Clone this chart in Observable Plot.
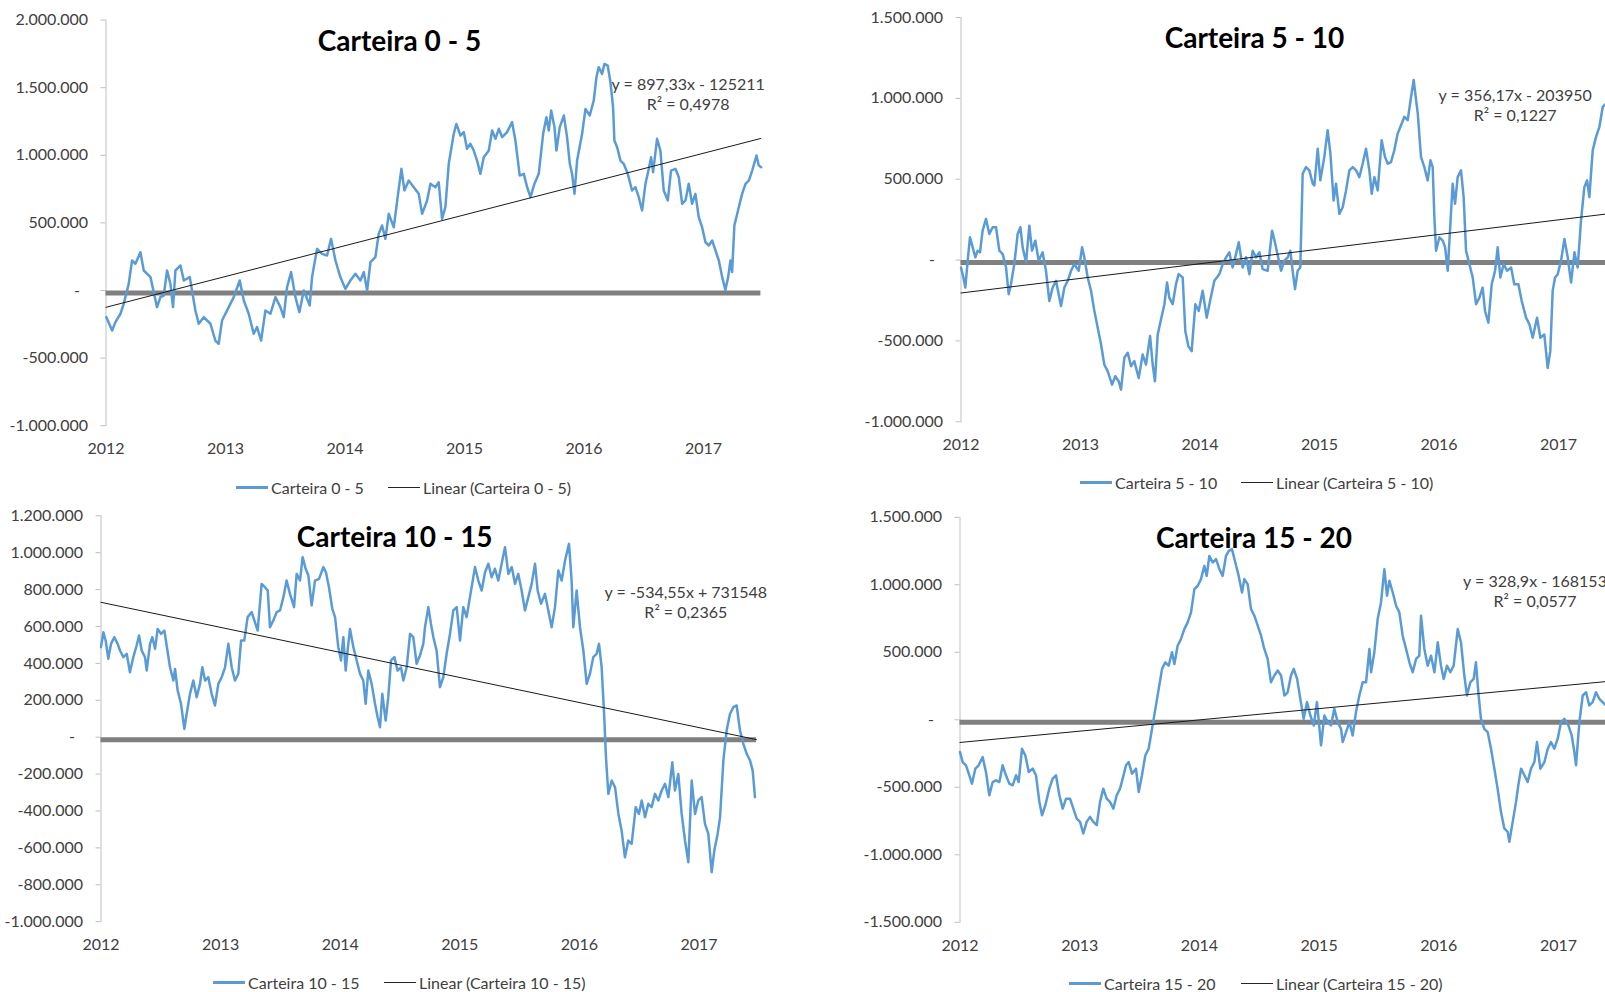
<!DOCTYPE html>
<html>
<head>
<meta charset="utf-8">
<script src="https://cdn.jsdelivr.net/npm/d3@7"></script>
<script src="https://cdn.jsdelivr.net/npm/@observablehq/plot@0.6"></script>
<style>
  html, body { margin: 0; padding: 0; background: #fff; }
  body { width: 1605px; height: 992px; overflow: hidden; position: relative; font-family: Lato, "Open Sans", sans-serif; }
  .panel { position: absolute; }
  .legend-item { position: absolute; display: flex; align-items: center; height: 20px; font-size: 16px; color: #404040; white-space: nowrap; }
  .swatch { display: inline-block; width: 32px; margin-right: 3px; }
</style>
</head>
<body>
<script>
// Daily P&L paths of four maturity buckets, [decimal year, value in thousands]
const carteira05 = [[2012.003,-197],[2012.051,-296],[2012.079,-234],[2012.121,-172],[2012.148,-99],[2012.190,49],[2012.218,222],[2012.246,197],[2012.288,283],[2012.316,148],[2012.372,99],[2012.427,-123],[2012.455,-49],[2012.483,-37],[2012.511,148],[2012.539,49],[2012.561,-123],[2012.581,148],[2012.623,185],[2012.651,74],[2012.701,99],[2012.748,-148],[2012.776,-246],[2012.818,-197],[2012.874,-246],[2012.915,-370],[2012.943,-394],[2012.971,-222],[2013.027,-123],[2013.069,-49],[2013.119,74],[2013.153,-74],[2013.194,-172],[2013.236,-320],[2013.264,-271],[2013.298,-370],[2013.334,-148],[2013.376,-172],[2013.418,-49],[2013.459,-123],[2013.487,-197],[2013.515,25],[2013.549,136],[2013.585,-49],[2013.618,-160],[2013.655,0],[2013.705,-111],[2013.724,99],[2013.766,308],[2013.808,271],[2013.850,259],[2013.883,382],[2013.920,222],[2013.961,99],[2014.003,12],[2014.045,74],[2014.087,123],[2014.129,74],[2014.157,136],[2014.185,0],[2014.213,210],[2014.254,247],[2014.282,419],[2014.310,481],[2014.338,382],[2014.366,567],[2014.408,468],[2014.444,715],[2014.472,900],[2014.497,740],[2014.533,813],[2014.575,764],[2014.617,715],[2014.645,567],[2014.687,666],[2014.715,789],[2014.756,764],[2014.784,801],[2014.812,530],[2014.840,616],[2014.868,937],[2014.910,1159],[2014.932,1232],[2014.966,1146],[2014.994,1171],[2015.021,1048],[2015.049,1085],[2015.077,1035],[2015.105,961],[2015.133,863],[2015.161,986],[2015.203,1035],[2015.231,1183],[2015.259,1122],[2015.287,1196],[2015.315,1134],[2015.356,1171],[2015.398,1245],[2015.426,1109],[2015.462,850],[2015.496,863],[2015.524,764],[2015.552,690],[2015.585,789],[2015.621,863],[2015.658,1159],[2015.685,1282],[2015.705,1183],[2015.725,1331],[2015.753,1208],[2015.769,1035],[2015.797,1208],[2015.831,1294],[2015.858,1134],[2015.881,937],[2015.900,863],[2015.920,715],[2015.942,961],[2015.984,1159],[2016.012,1343],[2016.048,1294],[2016.081,1405],[2016.104,1578],[2016.123,1652],[2016.151,1602],[2016.171,1676],[2016.198,1664],[2016.221,1541],[2016.243,1356],[2016.254,1109],[2016.277,1060],[2016.305,961],[2016.332,937],[2016.366,863],[2016.402,740],[2016.430,764],[2016.458,690],[2016.486,592],[2016.514,789],[2016.542,900],[2016.561,986],[2016.578,875],[2016.611,1122],[2016.639,1035],[2016.667,740],[2016.701,666],[2016.728,887],[2016.765,900],[2016.793,838],[2016.821,641],[2016.849,666],[2016.876,789],[2016.904,641],[2016.932,715],[2016.960,542],[2016.988,468],[2017.016,357],[2017.044,333],[2017.072,370],[2017.100,296],[2017.128,222],[2017.156,99],[2017.183,5],[2017.206,99],[2017.225,222],[2017.239,136],[2017.258,481],[2017.295,616],[2017.323,715],[2017.351,789],[2017.379,813],[2017.407,887],[2017.443,998],[2017.462,924],[2017.482,912]];

const carteira510 = [[2012.000,-46],[2012.020,-108],[2012.036,-170],[2012.056,-4],[2012.075,141],[2012.098,79],[2012.120,17],[2012.139,58],[2012.159,48],[2012.181,182],[2012.209,255],[2012.237,161],[2012.265,203],[2012.293,203],[2012.321,58],[2012.349,37],[2012.377,-46],[2012.399,-211],[2012.418,-149],[2012.446,-25],[2012.474,161],[2012.497,203],[2012.516,79],[2012.544,-14],[2012.572,213],[2012.594,58],[2012.622,120],[2012.650,-4],[2012.683,48],[2012.711,-66],[2012.739,-253],[2012.767,-170],[2012.795,-128],[2012.837,-284],[2012.865,-170],[2012.893,-128],[2012.921,-66],[2012.948,-25],[2012.985,-66],[2013.013,79],[2013.032,17],[2013.060,-108],[2013.088,-190],[2013.116,-315],[2013.144,-418],[2013.172,-522],[2013.199,-646],[2013.227,-687],[2013.264,-770],[2013.291,-718],[2013.319,-749],[2013.339,-801],[2013.367,-604],[2013.395,-573],[2013.423,-656],[2013.450,-625],[2013.487,-729],[2013.520,-584],[2013.548,-646],[2013.582,-470],[2013.604,-646],[2013.623,-749],[2013.646,-460],[2013.674,-366],[2013.702,-273],[2013.724,-139],[2013.743,-232],[2013.771,-273],[2013.799,-149],[2013.821,-87],[2013.855,-108],[2013.877,-439],[2013.902,-532],[2013.930,-563],[2013.961,-273],[2013.989,-315],[2014.022,-190],[2014.056,-356],[2014.084,-253],[2014.120,-128],[2014.162,-87],[2014.190,-25],[2014.218,17],[2014.245,48],[2014.273,-46],[2014.301,37],[2014.324,110],[2014.357,-46],[2014.385,17],[2014.413,-87],[2014.441,58],[2014.469,17],[2014.497,48],[2014.524,-56],[2014.566,-66],[2014.603,182],[2014.630,99],[2014.678,-66],[2014.706,-4],[2014.734,17],[2014.756,58],[2014.775,-66],[2014.795,-180],[2014.817,-66],[2014.839,-46],[2014.859,534],[2014.887,575],[2014.915,555],[2014.943,472],[2014.957,462],[2014.985,689],[2015.007,493],[2015.040,638],[2015.068,803],[2015.091,658],[2015.118,368],[2015.138,472],[2015.166,286],[2015.194,327],[2015.222,431],[2015.250,555],[2015.278,575],[2015.306,555],[2015.333,513],[2015.361,596],[2015.389,689],[2015.417,555],[2015.437,410],[2015.459,513],[2015.487,431],[2015.520,741],[2015.548,638],[2015.571,596],[2015.598,606],[2015.626,679],[2015.654,782],[2015.682,834],[2015.710,886],[2015.738,865],[2015.766,1010],[2015.788,1114],[2015.808,989],[2015.822,907],[2015.849,638],[2015.877,575],[2015.905,493],[2015.928,617],[2015.947,575],[2015.961,265],[2015.975,58],[2016.003,141],[2016.031,120],[2016.051,79],[2016.073,-66],[2016.095,224],[2016.114,472],[2016.134,348],[2016.156,513],[2016.184,555],[2016.206,389],[2016.226,58],[2016.254,-25],[2016.282,-108],[2016.310,-273],[2016.338,-232],[2016.365,-170],[2016.385,-315],[2016.413,-387],[2016.441,-149],[2016.469,-66],[2016.491,79],[2016.513,-108],[2016.541,-25],[2016.569,-66],[2016.603,-46],[2016.630,-149],[2016.664,-149],[2016.692,-253],[2016.728,-356],[2016.756,-397],[2016.784,-480],[2016.820,-356],[2016.848,-480],[2016.881,-460],[2016.909,-667],[2016.931,-563],[2016.951,-190],[2016.971,-108],[2016.993,-87],[2017.021,-4],[2017.049,130],[2017.077,17],[2017.105,-139],[2017.133,48],[2017.160,-46],[2017.188,244],[2017.216,451],[2017.239,493],[2017.258,389],[2017.286,679],[2017.314,762],[2017.342,824],[2017.370,948],[2017.398,969]];

const carteira1015 = [[2012.000,488],[2012.020,569],[2012.039,524],[2012.061,425],[2012.084,506],[2012.111,542],[2012.139,506],[2012.159,470],[2012.187,434],[2012.215,452],[2012.242,352],[2012.270,434],[2012.298,497],[2012.318,551],[2012.340,470],[2012.368,434],[2012.382,361],[2012.410,506],[2012.429,542],[2012.452,479],[2012.474,587],[2012.502,560],[2012.530,578],[2012.549,497],[2012.577,379],[2012.605,307],[2012.619,370],[2012.641,253],[2012.669,181],[2012.697,45],[2012.716,126],[2012.744,235],[2012.772,307],[2012.800,217],[2012.828,289],[2012.847,379],[2012.870,307],[2012.897,325],[2012.925,235],[2012.953,172],[2012.981,289],[2013.009,325],[2013.037,379],[2013.065,506],[2013.093,379],[2013.120,307],[2013.148,343],[2013.171,524],[2013.198,524],[2013.226,651],[2013.260,678],[2013.282,633],[2013.310,578],[2013.343,831],[2013.371,813],[2013.394,795],[2013.413,596],[2013.441,633],[2013.469,678],[2013.497,687],[2013.525,759],[2013.552,849],[2013.580,777],[2013.614,705],[2013.636,885],[2013.664,849],[2013.686,976],[2013.711,913],[2013.734,876],[2013.761,714],[2013.789,849],[2013.823,858],[2013.859,922],[2013.881,894],[2013.906,813],[2013.934,696],[2013.957,651],[2013.984,488],[2014.007,416],[2014.026,542],[2014.046,361],[2014.062,470],[2014.082,587],[2014.110,488],[2014.138,416],[2014.166,343],[2014.193,307],[2014.213,181],[2014.235,361],[2014.263,289],[2014.291,181],[2014.313,108],[2014.333,54],[2014.352,235],[2014.380,90],[2014.402,217],[2014.425,416],[2014.453,434],[2014.480,361],[2014.508,379],[2014.528,307],[2014.556,379],[2014.584,560],[2014.611,542],[2014.639,398],[2014.667,443],[2014.695,506],[2014.709,596],[2014.737,705],[2014.759,614],[2014.779,542],[2014.806,470],[2014.834,271],[2014.862,325],[2014.890,452],[2014.918,560],[2014.946,687],[2014.974,705],[2015.002,524],[2015.029,705],[2015.057,651],[2015.085,759],[2015.127,922],[2015.155,849],[2015.183,795],[2015.211,894],[2015.239,940],[2015.266,867],[2015.294,913],[2015.322,849],[2015.350,940],[2015.378,1030],[2015.406,885],[2015.434,922],[2015.462,831],[2015.489,885],[2015.517,795],[2015.545,687],[2015.573,759],[2015.601,831],[2015.629,940],[2015.651,795],[2015.679,723],[2015.712,777],[2015.740,687],[2015.768,596],[2015.796,705],[2015.824,904],[2015.852,849],[2015.880,958],[2015.913,1048],[2015.935,849],[2015.949,596],[2015.977,795],[2016.005,596],[2016.033,470],[2016.061,289],[2016.088,343],[2016.116,434],[2016.144,452],[2016.164,506],[2016.186,379],[2016.208,108],[2016.222,-108],[2016.242,-307],[2016.270,-235],[2016.298,-271],[2016.326,-416],[2016.353,-506],[2016.381,-651],[2016.409,-560],[2016.437,-578],[2016.471,-379],[2016.498,-416],[2016.521,-343],[2016.549,-434],[2016.576,-361],[2016.604,-379],[2016.632,-307],[2016.660,-343],[2016.688,-289],[2016.716,-253],[2016.744,-325],[2016.777,-136],[2016.799,-289],[2016.827,-199],[2016.855,-416],[2016.883,-560],[2016.911,-678],[2016.939,-235],[2016.967,-416],[2016.994,-343],[2017.022,-325],[2017.050,-470],[2017.078,-524],[2017.106,-732],[2017.128,-614],[2017.156,-524],[2017.176,-434],[2017.204,-126],[2017.231,36],[2017.259,126],[2017.287,163],[2017.315,172],[2017.343,36],[2017.371,-36],[2017.399,-90],[2017.427,-126],[2017.449,-181],[2017.468,-325]];

const carteira1520 = [[2012.000,-239],[2012.022,-313],[2012.050,-337],[2012.078,-411],[2012.100,-473],[2012.128,-362],[2012.156,-337],[2012.189,-276],[2012.217,-387],[2012.245,-559],[2012.273,-461],[2012.301,-448],[2012.329,-461],[2012.356,-337],[2012.384,-411],[2012.412,-473],[2012.440,-485],[2012.468,-411],[2012.490,-461],[2012.518,-214],[2012.546,-264],[2012.574,-387],[2012.607,-362],[2012.635,-411],[2012.663,-608],[2012.685,-707],[2012.713,-633],[2012.746,-510],[2012.774,-436],[2012.802,-411],[2012.830,-559],[2012.858,-658],[2012.886,-584],[2012.919,-584],[2012.947,-658],[2012.975,-732],[2013.003,-756],[2013.030,-842],[2013.058,-756],[2013.086,-719],[2013.114,-756],[2013.142,-781],[2013.170,-608],[2013.197,-510],[2013.225,-584],[2013.253,-608],[2013.281,-658],[2013.309,-559],[2013.337,-510],[2013.359,-436],[2013.387,-337],[2013.409,-313],[2013.437,-399],[2013.470,-362],[2013.493,-534],[2013.520,-411],[2013.548,-264],[2013.576,-214],[2013.604,-67],[2013.632,81],[2013.660,229],[2013.688,377],[2013.715,426],[2013.743,401],[2013.771,500],[2013.791,414],[2013.818,549],[2013.846,599],[2013.874,672],[2013.902,722],[2013.930,796],[2013.958,968],[2013.986,993],[2014.013,1042],[2014.041,1140],[2014.061,1066],[2014.083,1214],[2014.111,1165],[2014.139,1190],[2014.167,1116],[2014.194,1066],[2014.222,1214],[2014.245,1251],[2014.272,1264],[2014.300,1165],[2014.328,1066],[2014.356,943],[2014.375,1042],[2014.403,1005],[2014.431,820],[2014.459,771],[2014.487,697],[2014.515,623],[2014.542,525],[2014.570,451],[2014.598,278],[2014.626,328],[2014.654,365],[2014.682,328],[2014.710,180],[2014.737,204],[2014.765,328],[2014.788,377],[2014.816,303],[2014.843,155],[2014.871,7],[2014.899,131],[2014.927,32],[2014.955,-42],[2014.982,131],[2015.016,-190],[2015.044,32],[2015.072,-17],[2015.099,-42],[2015.127,81],[2015.155,-17],[2015.183,-67],[2015.197,-165],[2015.225,-91],[2015.253,-17],[2015.280,-116],[2015.308,57],[2015.336,180],[2015.364,278],[2015.392,278],[2015.420,525],[2015.434,352],[2015.461,500],[2015.489,746],[2015.517,869],[2015.545,1116],[2015.567,919],[2015.587,1030],[2015.615,943],[2015.643,845],[2015.670,796],[2015.698,623],[2015.726,525],[2015.754,426],[2015.782,352],[2015.810,451],[2015.837,475],[2015.851,771],[2015.879,525],[2015.907,401],[2015.935,475],[2015.963,352],[2015.991,574],[2016.018,401],[2016.041,303],[2016.068,401],[2016.096,352],[2016.124,401],[2016.158,672],[2016.185,574],[2016.213,328],[2016.235,180],[2016.263,278],[2016.291,303],[2016.310,426],[2016.330,204],[2016.352,7],[2016.380,-67],[2016.408,-91],[2016.436,-214],[2016.464,-362],[2016.491,-510],[2016.519,-682],[2016.547,-805],[2016.575,-830],[2016.589,-904],[2016.617,-756],[2016.645,-608],[2016.664,-485],[2016.687,-362],[2016.715,-411],[2016.742,-461],[2016.770,-362],[2016.798,-313],[2016.820,-165],[2016.848,-362],[2016.882,-313],[2016.910,-214],[2016.937,-165],[2016.965,-214],[2016.993,-140],[2017.021,-17],[2017.049,7],[2017.082,-42],[2017.110,-116],[2017.132,-239],[2017.146,-337],[2017.174,-17],[2017.202,180],[2017.230,204],[2017.257,106],[2017.285,131],[2017.313,204],[2017.341,155],[2017.368,131],[2017.396,106]];

// Linear trendlines as reported by the spreadsheet (x = observation index)
const titles     = ["Carteira 0 - 5", "Carteira 5 - 10", "Carteira 10 - 15", "Carteira 15 - 20"];
const slopes     = [897.33, 356.17, -534.55, 328.9];
const intercepts = [-125211, -203950, 731548, -168153];
const rSquared   = ["0,4978", "0,1227", "0,2365", "0,0577"];
const nObs = 1393;

const yearTicks = [2012, 2013, 2014, 2015, 2016, 2017];
const yTicks05   = [-1e6, -5e5, 0, 5e5, 1e6, 1.5e6, 2e6];
const yTicks510  = [-1e6, -5e5, 0, 5e5, 1e6, 1.5e6];
const yTicks1015 = [-1e6, -8e5, -6e5, -4e5, -2e5, 0, 2e5, 4e5, 6e5, 8e5, 1e6, 1.2e6];
const yTicks1520 = [-1.5e6, -1e6, -5e5, 0, 5e5, 1e6, 1.5e6];

const xStart = 2012.0, xEnd = 2017.48;

const ptBR = d3.formatLocale({decimal: ",", thousands: ".", grouping: [3], currency: ["", ""], minus: "-"});
const fmtInt = ptBR.format(",.0f");
const tickLabel = v => v === 0 ? "-\u2002" : fmtInt(v);
const decimalComma = v => String(v).replace(".", ",");

const BLUE = "#5b9bd5";
const FONT = "Lato, 'Open Sans', sans-serif";

// Panel layout: where each chart sits on the page
const layout = [
  {left: 0,     top: 0,   mL: 105.5, mR: 39.6, mT: 19.6, mB: 44.8, ticks: yTicks05,   eqDx: -72.7, eqDy: 73.6,  legend: [236, 388],  legendY: 487},
  {left: 854.5, top: 0,   mL: 105.5, mR: 39.6, mT: 17,   mB: 48.7, ticks: yTicks510,  eqDx: -100.7, eqDy: 87,  legend: [1080, 1241], legendY: 482},
  {left: 0,     top: 495, mL: 100.5, mR: 44.1, mT: 20.3, mB: 43.8, ticks: yTicks1015, eqDx: -70.6, eqDy: 86,   legend: [213, 384],  legendY: 982},
  {left: 853.5, top: 495, mL: 105.5, mR: 38.5, mT: 21.8, mB: 43.2, ticks: yTicks1520, eqDx: -81,   eqDy: 72.9,  legend: [1069, 1241], legendY: 983}
];
const series = [carteira05, carteira510, carteira1015, carteira1520];

series.forEach((s, k) => {
  const L = layout[k];
  const rows = s.map(([t, v]) => ({t, v: v * 1000}));
  const a = slopes[k], b = intercepts[k];
  const trend = [1, nObs].map(i => ({t: xStart + (i - 1) / (nObs - 1) * (xEnd - xStart), v: a * i + b}));
  const eq = `y = ${decimalComma(a)}x ${b < 0 ? "-" : "+"} ${Math.abs(b)}\nR² = ${rSquared[k]}`;
  const ticks = L.ticks;

  const chart = Plot.plot({
    width: 800,
    height: 470,
    marginLeft: L.mL, marginRight: L.mR, marginTop: L.mT, marginBottom: L.mB,
    style: {fontFamily: FONT, fontSize: "16px", color: "#404040", background: "transparent", overflow: "visible"},
    x: {domain: [xStart, xEnd], axis: null},
    y: {domain: [ticks[0], ticks[ticks.length - 1]], axis: null},
    marks: [
      Plot.frame({anchor: "left", stroke: "#bfbfbf"}),
      Plot.axisY({ticks, tickSize: 5, tickFormat: () => "", label: null, color: "#bfbfbf"}),
      Plot.axisY({ticks, tickSize: 0, tickPadding: 18, tickFormat: tickLabel, label: null, color: "#404040"}),
      Plot.axisX({ticks: yearTicks, tickSize: 0, tickPadding: 17, tickFormat: d => String(d), label: null, color: "#404040"}),
      Plot.ruleY([0], {stroke: "#808080", strokeWidth: 5, dy: 2.5}),
      Plot.line(rows, {x: "t", y: "v", stroke: BLUE, strokeWidth: 2.5, strokeLinejoin: "round"}),
      Plot.line(trend, {x: "t", y: "v", stroke: "#1a1a1a", strokeWidth: 1}),
      Plot.text([titles[k]], {frameAnchor: "top", dx: -34, dy: 22, lineAnchor: "middle", fontSize: 28, fontWeight: "bold", fill: "#000"}),
      Plot.text([eq], {frameAnchor: "top-right", dx: L.eqDx, dy: L.eqDy, textAnchor: "middle", lineAnchor: "middle", lineHeight: 1.25, fontSize: 16, fill: "#404040"})
    ]
  });
  chart.classList.add("panel");
  chart.style.left = L.left + "px";
  chart.style.top = L.top + "px";
  document.body.appendChild(chart);

  // Legend: series swatch and trendline swatch
  const items = [
    {label: titles[k], color: BLUE, w: 3},
    {label: `Linear (${titles[k]})`, color: "#262626", w: 1}
  ];
  items.forEach((it, j) => {
    const div = document.createElement("div");
    div.className = "legend-item";
    div.style.left = L.legend[j] + "px";
    div.style.top = (L.legendY - 10) + "px";
    const sw = document.createElement("span");
    sw.className = "swatch";
    sw.style.borderTop = `${it.w}px solid ${it.color}`;
    div.appendChild(sw);
    div.appendChild(document.createTextNode(it.label));
    document.body.appendChild(div);
  });
});
</script>
</body>
</html>
